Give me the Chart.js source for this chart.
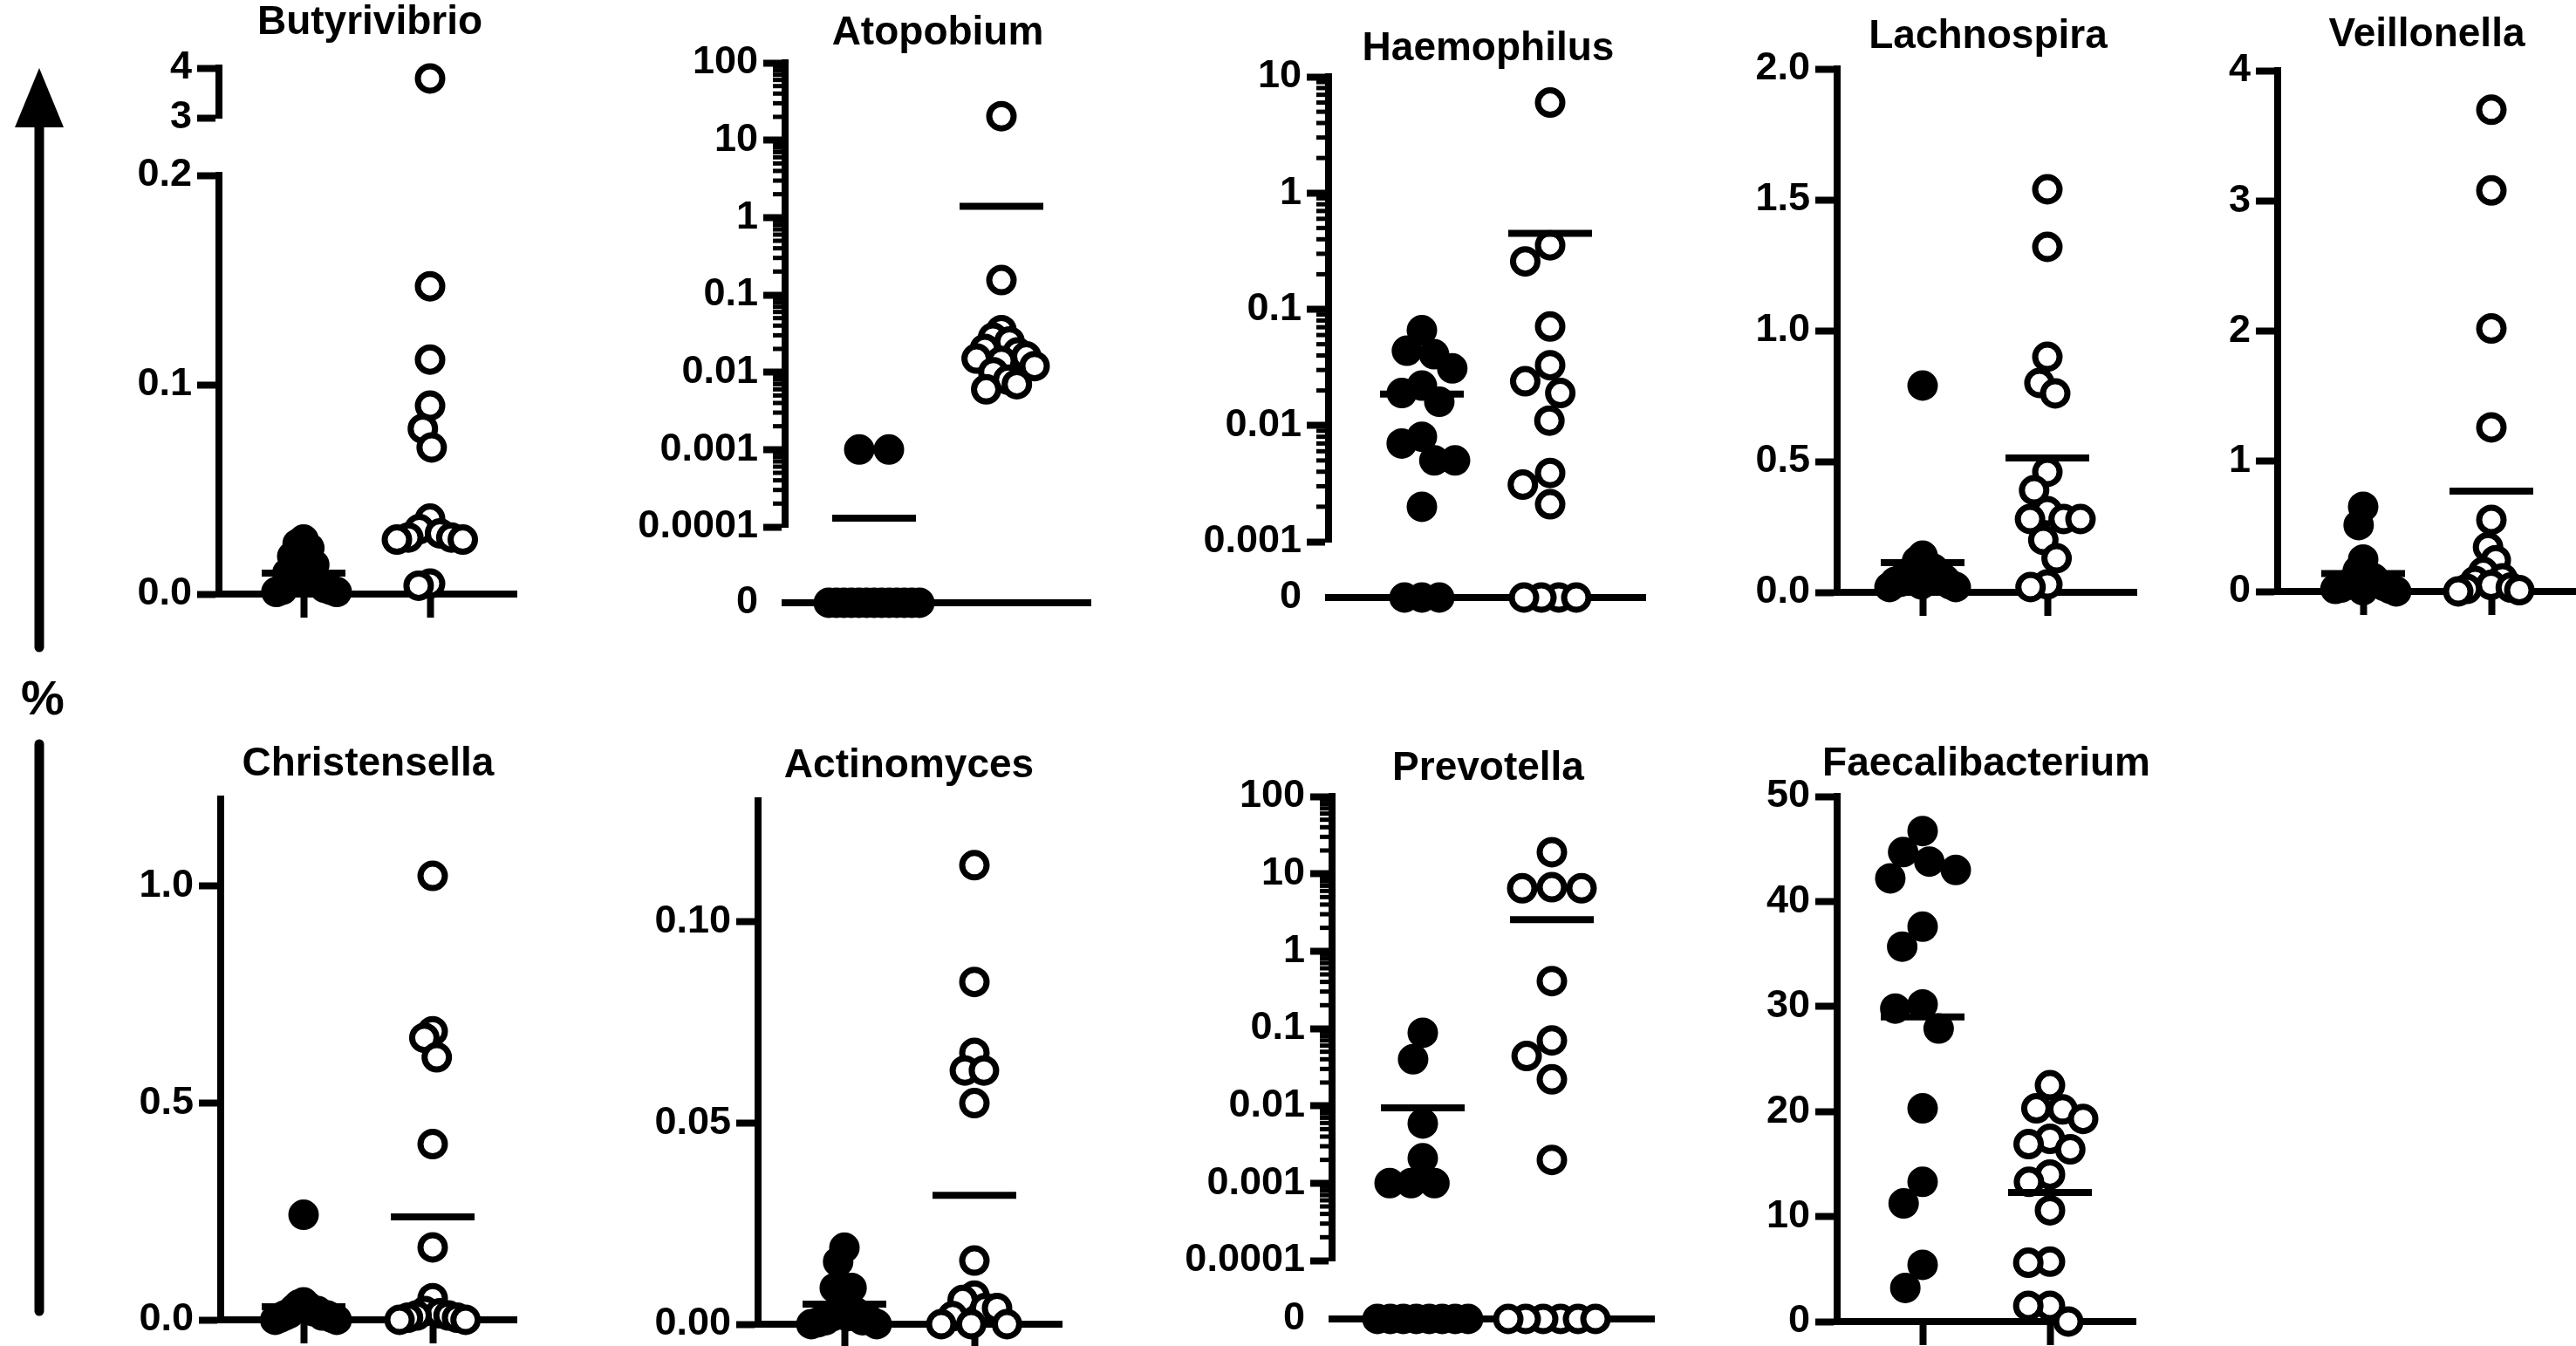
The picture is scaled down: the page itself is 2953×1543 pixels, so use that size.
<!DOCTYPE html>
<html>
<head>
<meta charset="utf-8">
<script src="https://cdn.jsdelivr.net/npm/chart.js@4.4.1/dist/chart.umd.min.js"></script>
<style>
  html, body { margin: 0; padding: 0; background: #fff; overflow: hidden; }
  #fig { position: relative; width: 2953px; height: 1543px; overflow: hidden; background: #fff; }
  #fig canvas { position: absolute; }
  .title { position: absolute; transform: translateX(-50%); white-space: nowrap; color: #000;
           font: bold 46px "Liberation Sans", Arial, sans-serif; line-height: 46px; }
  #pct { position: absolute; left: 49px; top: 772px; transform: translateX(-50%); color: #000;
         font: bold 56px "Liberation Sans", Arial, sans-serif; line-height: 56px; }
</style>
</head>
<body>
<div id="fig">
  <svg width="120" height="1543" style="position:absolute;left:0;top:0">
    <polygon points="17,146 73,146 45,78" fill="#000"/>
    <line x1="45" y1="140" x2="45" y2="742" stroke="#000" stroke-width="11" stroke-linecap="round"/>
    <line x1="45" y1="853" x2="45" y2="1503" stroke="#000" stroke-width="11" stroke-linecap="round"/>
  </svg>
  <div id="pct">%</div>
</div>
<script>
// genera, one panel each (filled dots = first group, open circles = second group), values in %
const genera = ['Butyrivibrio', 'Atopobium', 'Haemophilus', 'Lachnospira', 'Veillonella',
                'Christensella', 'Actinomyces', 'Prevotella', 'Faecalibacterium'];

const butyrivibrioFilled = [0.026, 0.024, 0.022, 0.018, 0.014, 0.012, 0.010, 0.008, 0.006, 0.005, 0.003, 0.002, 0.002, 0.001, 0.001];
const butyrivibrioOpen = [3.79, 0.147, 0.112, 0.090, 0.079, 0.070, 0.036, 0.031, 0.029, 0.027, 0.027, 0.026, 0.026, 0.005, 0.004];
const butyrivibrioMeans = [0.010, null];

const atopobiumFilled = [0.001, 0.001, 0, 0, 0, 0, 0, 0, 0, 0, 0, 0, 0, 0, 0];
const atopobiumOpen = [20.4, 0.155, 0.035, 0.028, 0.025, 0.020, 0.018, 0.016, 0.015, 0.014, 0.012, 0.010, 0.008, 0.007, 0.006];
const atopobiumMeans = [0.00013, 1.4];

const haemophilusFilled = [0.066, 0.044, 0.041, 0.031, 0.022, 0.019, 0.016, 0.008, 0.007, 0.005, 0.005, 0.002, 0, 0, 0];
const haemophilusOpen = [6.0, 0.355, 0.258, 0.071, 0.033, 0.024, 0.019, 0.011, 0.0039, 0.0031, 0.0021, 0, 0, 0, 0];
const haemophilusMeans = [0.0186, 0.45];

const lachnospiraFilled = [0.79, 0.14, 0.12, 0.10, 0.09, 0.08, 0.07, 0.06, 0.05, 0.04, 0.04, 0.03, 0.03, 0.02, 0.02];
const lachnospiraOpen = [1.54, 1.32, 0.90, 0.80, 0.76, 0.46, 0.39, 0.31, 0.28, 0.28, 0.28, 0.20, 0.13, 0.03, 0.02];
const lachnospiraMeans = [0.113, 0.513];

const veillonellaFilled = [0.65, 0.51, 0.245, 0.16, 0.12, 0.10, 0.08, 0.06, 0.05, 0.04, 0.03, 0.02, 0.02, 0.01, 0.0];
const veillonellaOpen = [3.70, 3.08, 2.02, 1.26, 0.55, 0.34, 0.24, 0.15, 0.10, 0.08, 0.05, 0.03, 0.02, 0.01, 0.0];
const veillonellaMeans = [0.137, 0.77];

const christensellaFilled = [0.242, 0.04, 0.035, 0.03, 0.025, 0.02, 0.02, 0.015, 0.01, 0.01, 0.01, 0.005, 0.005, 0.0, 0.0];
const christensellaOpen = [1.023, 0.665, 0.65, 0.605, 0.405, 0.167, 0.05, 0.02, 0.015, 0.01, 0.01, 0.005, 0.005, 0.0, 0.0];
const christensellaMeans = [0.03, 0.237];

const actinomycesFilled = [0.019, 0.0155, 0.009, 0.009, 0.009, 0.003, 0.003, 0.002, 0.002, 0.001, 0.001, 0.001, 0.0005, 0, 0];
const actinomycesOpen = [0.114, 0.085, 0.0674, 0.063, 0.063, 0.0549, 0.0158, 0.0071, 0.006, 0.004, 0.004, 0.002, 0, 0, 0];
const actinomycesMeans = [0.005, 0.032];

const prevotellaFilled = [0.088, 0.040, 0.0059, 0.0021, 0.001, 0.001, 0.001, 0, 0, 0, 0, 0, 0, 0, 0];
const prevotellaOpen = [19, 6.7, 6.5, 6.5, 0.41, 0.07, 0.044, 0.022, 0.002, 0, 0, 0, 0, 0, 0];
const prevotellaMeans = [0.0094, 2.55];

const faecalibacteriumFilled = [46.7, 44.7, 43.8, 43.0, 42.2, 37.6, 35.7, 30.2, 29.8, 27.9, 20.3, 13.3, 11.25, 5.4, 3.2];
const faecalibacteriumOpen = [22.5, 20.3, 20.2, 19.3, 17.4, 16.9, 16.4, 14.0, 13.3, 10.6, 5.7, 5.6, 1.5, 1.5, 0];
const faecalibacteriumMeans = [29.0, 12.3];

// tick values and labels
const butyrivibrioTicks = [0, 0.1, 0.2];
const butyrivibrioTickLabels = ['0.0', '0.1', '0.2'];
const butyrivibrioUpperTicks = [3, 4];
const butyrivibrioUpperTickLabels = ['3', '4'];
const wideLogTicks = [0.0001, 0.001, 0.01, 0.1, 1, 10, 100];
const wideLogTickLabels = ['0.0001', '0.001', '0.01', '0.1', '1', '10', '100'];
const haemophilusTicks = [0.001, 0.01, 0.1, 1, 10];
const haemophilusTickLabels = ['0.001', '0.01', '0.1', '1', '10'];
const lachnospiraTicks = [0, 0.5, 1, 1.5, 2];
const lachnospiraTickLabels = ['0.0', '0.5', '1.0', '1.5', '2.0'];
const veillonellaTicks = [0, 1, 2, 3, 4];
const veillonellaTickLabels = ['0', '1', '2', '3', '4'];
const christensellaTicks = [0, 0.5, 1];
const christensellaTickLabels = ['0.0', '0.5', '1.0'];
const actinomycesTicks = [0, 0.05, 0.1];
const actinomycesTickLabels = ['0.00', '0.05', '0.10'];
const faecalibacteriumTicks = [0, 10, 20, 30, 40, 50];
const faecalibacteriumTickLabels = ['0', '10', '20', '30', '40', '50'];
const zeroTick = [0];
const zeroTickLabel = ['0'];

// page layout of each panel (pixels)
const boxes = {
  Butyrivibrio:     { axisX: 251,  right: 592,  g1: 348,  g2: 493,  top: 201, bottom: 681,  upTop: 78, upBottom: 135, tx: 424,  ty: 23 },
  Atopobium:        { axisX: 900,  right: 1250, g1: 1002, g2: 1148, top: 72,  bottom: 604,  zeroY: 691,  tx: 1075, ty: 35 },
  Haemophilus:      { axisX: 1523, right: 1886, g1: 1630, g2: 1777, top: 88,  bottom: 621,  zeroY: 685,  tx: 1706, ty: 53 },
  Lachnospira:      { axisX: 2106, right: 2449, g1: 2204, g2: 2347, top: 79,  bottom: 679,  tx: 2279, ty: 39 },
  Veillonella:      { axisX: 2611, right: 2953, g1: 2709, g2: 2856, top: 81,  bottom: 678,  tx: 2782, ty: 37 },
  Christensella:    { axisX: 253,  right: 592,  g1: 348,  g2: 496,  top: 916, bottom: 1513, yMax: 1.2,  tx: 422,  ty: 873 },
  Actinomyces:      { axisX: 869,  right: 1217, g1: 968,  g2: 1117, top: 918, bottom: 1518, yMax: 0.13, tx: 1042, ty: 875 },
  Prevotella:       { axisX: 1527, right: 1896, g1: 1631, g2: 1779, top: 913, bottom: 1445, zeroY: 1512, tx: 1706, ty: 878 },
  Faecalibacterium: { axisX: 2106, right: 2448, g1: 2204, g2: 2350, top: 913, bottom: 1515, tx: 2277, ty: 873 }
};

const BLACK = '#000';
const YW = 200, XH = 46, PAD_T = 40, PAD_R = 30, LINE = 8;
const R = 14, BW = 7;
const GAP = 34, ROW_GAP = 20, MAX_HALF = 38, ROW_HALF = 52;

Chart.defaults.font.family = '"Liberation Sans", Arial, sans-serif';
Chart.defaults.color = BLACK;

const fig = document.getElementById('fig');

// short minor ticks on log axes
const minorTicks = {
  id: 'minorTicks',
  afterDraw(chart) {
    const ys = chart.scales.y;
    const ctx = chart.ctx, x = chart.chartArea.left;
    ctx.save();
    ctx.strokeStyle = BLACK;
    ctx.lineWidth = 5;
    const e0 = Math.round(Math.log10(ys.min)), e1 = Math.round(Math.log10(ys.max));
    for (let e = e0; e < e1; e++) {
      for (let k = 2; k < 10; k++) {
        const y = ys.getPixelForValue(k * Math.pow(10, e));
        ctx.beginPath();
        ctx.moveTo(x - 14, y);
        ctx.lineTo(x, y);
        ctx.stroke();
      }
    }
    ctx.restore();
  }
};

function makeChart(box, plotTop, plotBottom, y, xStyle, plugins) {
  const cv = document.createElement('canvas');
  const w = YW + (box.right - box.axisX) + PAD_R;
  const h = PAD_T + (plotBottom - plotTop) + XH;
  cv.width = w; cv.height = h;
  cv.style.width = w + 'px'; cv.style.height = h + 'px';
  cv.style.left = (box.axisX - YW) + 'px';
  cv.style.top = (plotTop - PAD_T) + 'px';
  fig.appendChild(cv);
  const unit = box.g2 - box.g1;
  const label = v => {
    const i = y.ticks.findIndex(t => Math.abs(t - v) <= Math.abs(t) * 1e-6 + 1e-12);
    return i < 0 ? '' : y.labels[i];
  };
  return new Chart(cv, {
    type: 'scatter',
    data: { datasets: [] },
    options: {
      responsive: false,
      animation: false,
      devicePixelRatio: 1,
      events: [],
      layout: { autoPadding: false, padding: { top: PAD_T, right: PAD_R, left: 0, bottom: 0 } },
      plugins: { legend: { display: false }, tooltip: { enabled: false } },
      scales: {
        x: {
          type: 'linear',
          min: 1 - (box.g1 - box.axisX) / unit,
          max: 2 + (box.right - box.g2) / unit,
          border: { display: xStyle !== 'none', color: BLACK, width: LINE },
          grid: { display: xStyle === 'axis', drawOnChartArea: false, drawTicks: true,
                  tickLength: 27, tickWidth: LINE, tickColor: BLACK },
          ticks: { display: false },
          afterBuildTicks: s => { s.ticks = [{ value: 1 }, { value: 2 }]; },
          afterFit: s => { s.height = XH; }
        },
        y: {
          type: y.type,
          min: y.min,
          max: y.max,
          border: { display: y.border !== false, color: BLACK, width: LINE },
          grid: { display: true, drawOnChartArea: false, drawTicks: true, tickLength: 25, tickWidth: LINE,
                  tickColor: y.border === false ? 'rgba(0,0,0,0)' : BLACK },
          ticks: { autoSkip: false, padding: 6, color: BLACK,
                   font: { size: 45, weight: 'bold' }, callback: v => label(v) },
          afterBuildTicks: s => { s.ticks = y.ticks.map(v => ({ value: v })); },
          afterFit: s => { s.width = YW; }
        }
      }
    },
    plugins: plugins || []
  });
}

// beeswarm offsets, worked out in pixels on the chart's own scales
function swarm(chart, values, group, gap, maxHalf) {
  const ys = chart.scales.y, xs = chart.scales.x;
  const ppu = xs.getPixelForValue(2) - xs.getPixelForValue(1);
  const pts = values.map(v => ({ v, py: ys.getPixelForValue(v), px: 0 }));
  const d2 = gap * gap;
  const done = [];
  pts.slice().sort((a, b) => a.py - b.py).forEach(p => {
    const cands = [0];
    done.forEach(q => {
      const dy = p.py - q.py;
      if (dy * dy < d2) {
        const w = Math.sqrt(d2 - dy * dy);
        cands.push(q.px + w, q.px - w);
      }
    });
    cands.sort((a, b) => Math.abs(a) - Math.abs(b) || a - b);
    p.px = cands.find(c => done.every(q => (c - q.px) ** 2 + (p.py - q.py) ** 2 >= d2 - 0.5));
    done.push(p);
  });
  if (pts.length > 1 && pts.every(p => Math.abs(p.py - pts[0].py) < 0.5)) {
    const off = pts.map(p => p.px);
    const c = (Math.min(...off) + Math.max(...off)) / 2;
    pts.forEach(p => { p.px -= c; });
  }
  const spread = Math.max(0, ...pts.map(p => Math.abs(p.px)));
  const k = spread > maxHalf ? maxHalf / spread : 1;
  return pts.map(p => ({ x: group + p.px * k / ppu, y: p.v }));
}

function pointSet(data, filled) {
  return {
    data,
    order: 1,
    clip: false,
    pointRadius: R,
    pointBorderWidth: BW,
    pointBorderColor: BLACK,
    pointBackgroundColor: filled ? BLACK : '#fff'
  };
}

function meanSet(group, mean, half) {
  return {
    data: [{ x: group - half, y: mean }, { x: group + half, y: mean }],
    showLine: true,
    order: 0,
    clip: false,
    pointRadius: 0,
    borderColor: BLACK,
    borderWidth: LINE,
    borderCapStyle: 'butt'
  };
}

function fill(chart, box, groups, means, gap, maxHalf) {
  const half = 48 / (box.g2 - box.g1);
  groups.forEach((vals, i) => {
    if (vals.length) chart.data.datasets.push(pointSet(swarm(chart, vals, i + 1, gap, maxHalf), i === 0));
  });
  (means || []).forEach((m, i) => {
    if (m !== null && m !== undefined) chart.data.datasets.push(meanSet(i + 1, m, half));
  });
  chart.update();
}

function linearPanel(name, filled, open, means, ticks, labels) {
  const box = boxes[name];
  const c = makeChart(box, box.top, box.bottom,
    { type: 'linear', min: 0, max: box.yMax || ticks[ticks.length - 1], ticks, labels }, 'axis');
  fill(c, box, [filled, open], means, GAP, MAX_HALF);
}

function logPanel(name, filled, open, means, ticks, labels) {
  const box = boxes[name];
  const c = makeChart(box, box.top, box.bottom,
    { type: 'logarithmic', min: ticks[0], max: ticks[ticks.length - 1], ticks, labels }, 'none', [minorTicks]);
  fill(c, box, [filled.filter(v => v > 0), open.filter(v => v > 0)], means, GAP, MAX_HALF);
  const z = makeChart(box, box.zeroY - 30, box.zeroY,
    { type: 'linear', min: 0, max: 1, ticks: zeroTick, labels: zeroTickLabel, border: false }, 'line');
  fill(z, box, [filled.filter(v => v === 0), open.filter(v => v === 0)], null, ROW_GAP, ROW_HALF);
}

function brokenPanel(name, filled, open, means) {
  const box = boxes[name];
  const lower = makeChart(box, box.top, box.bottom,
    { type: 'linear', min: 0, max: 0.2, ticks: butyrivibrioTicks, labels: butyrivibrioTickLabels }, 'axis');
  fill(lower, box, [filled.filter(v => v <= 0.2), open.filter(v => v <= 0.2)], means, GAP, MAX_HALF);
  const upper = makeChart(box, box.upTop, box.upBottom,
    { type: 'linear', min: 3, max: 4, ticks: butyrivibrioUpperTicks, labels: butyrivibrioUpperTickLabels }, 'none');
  fill(upper, box, [filled.filter(v => v > 0.2), open.filter(v => v > 0.2)], null, GAP, MAX_HALF);
}

brokenPanel('Butyrivibrio', butyrivibrioFilled, butyrivibrioOpen, butyrivibrioMeans);
logPanel('Atopobium', atopobiumFilled, atopobiumOpen, atopobiumMeans, wideLogTicks, wideLogTickLabels);
logPanel('Haemophilus', haemophilusFilled, haemophilusOpen, haemophilusMeans, haemophilusTicks, haemophilusTickLabels);
linearPanel('Lachnospira', lachnospiraFilled, lachnospiraOpen, lachnospiraMeans, lachnospiraTicks, lachnospiraTickLabels);
linearPanel('Veillonella', veillonellaFilled, veillonellaOpen, veillonellaMeans, veillonellaTicks, veillonellaTickLabels);
linearPanel('Christensella', christensellaFilled, christensellaOpen, christensellaMeans, christensellaTicks, christensellaTickLabels);
linearPanel('Actinomyces', actinomycesFilled, actinomycesOpen, actinomycesMeans, actinomycesTicks, actinomycesTickLabels);
logPanel('Prevotella', prevotellaFilled, prevotellaOpen, prevotellaMeans, wideLogTicks, wideLogTickLabels);
linearPanel('Faecalibacterium', faecalibacteriumFilled, faecalibacteriumOpen, faecalibacteriumMeans, faecalibacteriumTicks, faecalibacteriumTickLabels);

// panel titles
genera.forEach(name => {
  const b = boxes[name];
  const t = document.createElement('div');
  t.className = 'title';
  t.textContent = name;
  t.style.left = b.tx + 'px';
  t.style.top = (b.ty - 23) + 'px';
  fig.appendChild(t);
});
</script>
</body>
</html>
